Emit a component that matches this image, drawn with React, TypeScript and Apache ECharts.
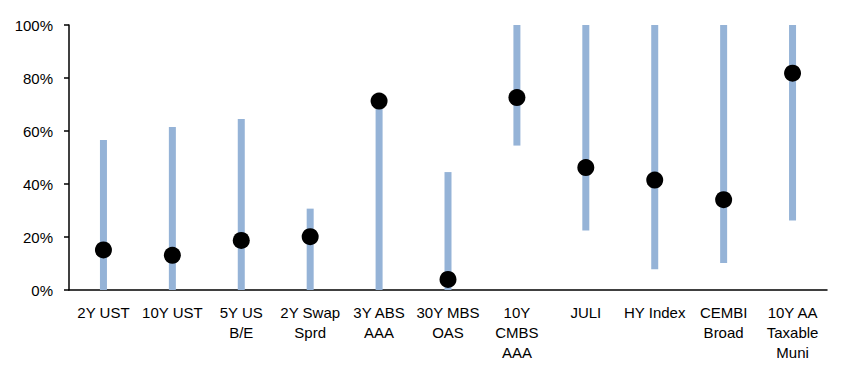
import React, { useEffect, useRef } from "react";
import * as echarts from "echarts";

const categories = [
  "2Y UST",
  "10Y UST",
  "5Y US\nB/E",
  "2Y Swap\nSprd",
  "3Y ABS\nAAA",
  "30Y MBS\nOAS",
  "10Y\nCMBS\nAAA",
  "JULI",
  "HY Index",
  "CEMBI\nBroad",
  "10Y AA\nTaxable\nMuni",
];
const rangeLow = [0, 0, 0, 0, 0, 0, 54.5, 22.5, 7.8, 10.2, 26.2];
const rangeHigh = [56.6, 61.5, 64.5, 30.7, 71.3, 44.5, 100, 100, 100, 100, 100];
const current = [15.1, 13.1, 18.7, 20.1, 71.3, 4.0, 72.6, 46.2, 41.5, 34.1, 81.8];
const yTicks = [0, 20, 40, 60, 80, 100];

const FONT = "'Liberation Sans Narrow', 'Arial Narrow', 'Liberation Sans', Arial, sans-serif";

export default function App() {
  const ref = useRef<HTMLDivElement>(null);
  useEffect(() => {
    if (!ref.current) return;
    const chart = echarts.init(ref.current, null, { renderer: "svg" });
    chart.setOption({
      animation: false,
      grid: { left: 69, right: 25, top: 25, bottom: 90, containLabel: false },
      xAxis: {
        type: "category",
        data: categories,
        axisLine: { show: true, lineStyle: { color: "#000", width: 1.5 } },
        axisTick: { show: false },
        axisLabel: {
          interval: 0,
          color: "#000",
          fontFamily: FONT,
          fontSize: 15,
          lineHeight: 20,
          margin: 12,
        },
      },
      yAxis: {
        type: "value",
        min: yTicks[0],
        max: yTicks[yTicks.length - 1],
        interval: 20,
        axisLine: { show: true, lineStyle: { color: "#000", width: 1.5 } },
        axisTick: { show: true, length: 5, lineStyle: { color: "#000", width: 1.5 } },
        splitLine: { show: false },
        axisLabel: {
          color: "#000",
          fontFamily: FONT,
          fontSize: 15,
          margin: 16,
          formatter: "{value}%",
        },
      },
      series: [
        {
          type: "bar",
          stack: "range",
          data: rangeLow,
          barWidth: 7,
          itemStyle: { color: "transparent" },
          silent: true,
        },
        {
          type: "bar",
          stack: "range",
          data: rangeHigh.map((h, i) => +(h - rangeLow[i]).toFixed(2)),
          barWidth: 7,
          itemStyle: { color: "#95b3d7" },
        },
        {
          type: "scatter",
          data: current,
          symbolSize: 17,
          itemStyle: { color: "#000", opacity: 1 },
          z: 5,
        },
      ],
    });
    return () => chart.dispose();
  }, []);
  return <div ref={ref} style={{ width: 852, height: 380, position: "absolute", left: 0, top: 0 }} />;
}
